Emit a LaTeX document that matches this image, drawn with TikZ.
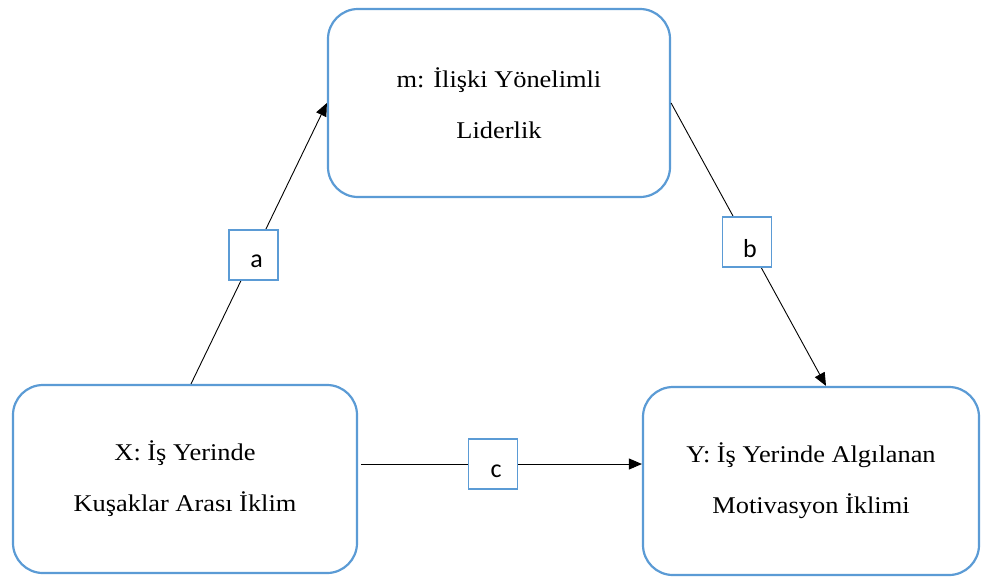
\documentclass[tikz,border=0pt]{standalone}
\usepackage{fontspec}
\setmainfont{Liberation Serif}[FakeStretch=1.1]
\newfontfamily\labelfont{Carlito}
\usetikzlibrary{arrows.meta,calc}
\definecolor{boxblue}{RGB}{91,155,213}
% path letter, set a little low and right inside its square
\newcommand{\pathletter}[1]{\raisebox{-7pt}[\height][\depth]{\kern3pt #1\kern-3pt}}
\begin{document}
\begin{tikzpicture}[x=1pt,y=-1pt,
  varbox/.style={draw=boxblue,line width=2.2pt,rounded corners=30pt,fill=white,
    align=center,font=\fontsize{24}{51}\selectfont,inner sep=0pt},
  pathbox/.style={draw=boxblue,line width=1.8pt,fill=white,minimum width=49pt,
    minimum height=50pt,inner sep=0pt,font=\labelfont\fontsize{26}{30}\selectfont},
  link/.style={line width=0.9pt,-{Triangle[length=13pt,width=11pt]}}]
\useasboundingbox (0,0) rectangle (981,579);

% variables
\node[varbox,minimum width=342pt,minimum height=188pt] (m) at (499,103)
  {m: İlişki Yönelimli\\Liderlik};
\node[varbox,minimum width=344pt,minimum height=188pt] (X) at (185,479)
  {X: İş Yerinde\\Kuşaklar Arası İklim};
\node[varbox,minimum width=336pt,minimum height=188pt] (Y) at (811,481)
  {Y: İş Yerinde Algılanan\\Motivasyon İklimi};

% paths a, b, c
\draw[link] ([xshift=6pt]X.north) -- (m.west)
  node[pathbox,pos=0.46] (a) {\pathletter{a}};
\draw[link] (m.east) -- ([xshift=15pt]Y.north)
  node[pathbox,pos=0.49] (b) {\pathletter{b}};
\draw[link] ([xshift=3pt,yshift=15pt]X.east) -- ([yshift=17pt]Y.west)
  node[pathbox,pos=0.47] (c) {\pathletter{c}};
\end{tikzpicture}
\end{document}
